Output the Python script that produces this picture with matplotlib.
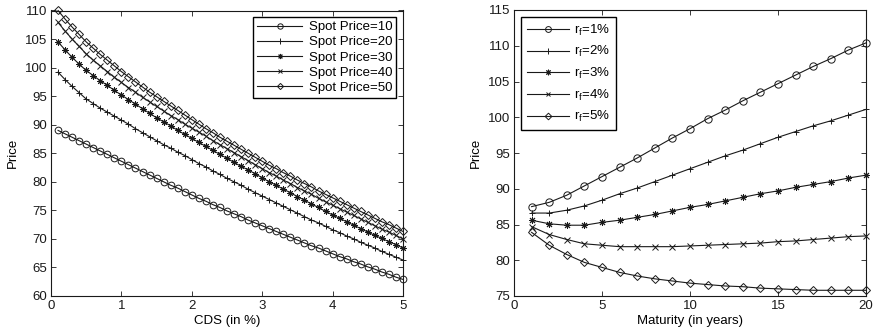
import numpy as np
import matplotlib
matplotlib.use("Agg")
import matplotlib.pyplot as plt

plt.rcParams['font.family'] = ['Liberation Sans', 'DejaVu Sans']
plt.rcParams['mathtext.fontset'] = 'custom'
plt.rcParams['mathtext.rm'] = 'Liberation Sans'
plt.rcParams['mathtext.it'] = 'Liberation Sans'

# ---- Left panel: price vs CDS spread for several spot prices ----
cds = np.round(np.arange(1, 51) * 0.1, 1)
spot_labels = ["Spot Price=10", "Spot Price=20", "Spot Price=30",
               "Spot Price=40", "Spot Price=50"]
spot10 = [89.0, 88.4, 87.8, 87.2, 86.6, 86.0, 85.4, 84.8, 84.2, 83.6,
          83.0, 82.4, 81.8, 81.2, 80.6, 80.0, 79.4, 78.9, 78.3, 77.7,
          77.1, 76.6, 76.0, 75.5, 74.9, 74.4, 73.9, 73.3, 72.8, 72.3,
          71.8, 71.3, 70.8, 70.3, 69.8, 69.3, 68.8, 68.4, 67.9, 67.4,
          66.9, 66.5, 66.0, 65.6, 65.1, 64.7, 64.2, 63.8, 63.3, 62.9]
spot20 = [99.2, 97.9, 96.7, 95.6, 94.5, 93.7, 92.9, 92.2, 91.5, 90.8,
          90.1, 89.3, 88.6, 87.9, 87.2, 86.5, 85.9, 85.2, 84.6, 83.9,
          83.2, 82.6, 81.9, 81.3, 80.6, 80.0, 79.4, 78.7, 78.1, 77.5,
          76.9, 76.3, 75.7, 75.1, 74.5, 73.9, 73.3, 72.8, 72.2, 71.6,
          71.1, 70.5, 70.0, 69.4, 68.9, 68.4, 67.8, 67.3, 66.8, 66.3]
spot30 = [104.5, 103.1, 101.8, 100.6, 99.5, 98.6, 97.7, 96.9, 96.0, 95.2,
          94.4, 93.6, 92.8, 92.0, 91.2, 90.5, 89.8, 89.0, 88.3, 87.6,
          86.9, 86.2, 85.5, 84.8, 84.1, 83.4, 82.7, 82.1, 81.4, 80.7,
          80.0, 79.4, 78.7, 78.1, 77.4, 76.8, 76.1, 75.5, 74.8, 74.2,
          73.6, 73.0, 72.4, 71.8, 71.2, 70.6, 70.1, 69.5, 69.0, 68.4]
spot40 = [107.9, 106.4, 105.0, 103.7, 102.4, 101.3, 100.3, 99.3, 98.3, 97.4,
          96.5, 95.7, 94.8, 94.0, 93.2, 92.4, 91.6, 90.9, 90.1, 89.4,
          88.7, 88.0, 87.2, 86.5, 85.8, 85.1, 84.4, 83.7, 83.0, 82.3,
          81.6, 81.0, 80.3, 79.7, 79.0, 78.4, 77.8, 77.1, 76.5, 75.9,
          75.3, 74.7, 74.1, 73.5, 72.9, 72.3, 71.7, 71.2, 70.6, 70.0]
spot50 = [110.0, 108.5, 107.1, 105.8, 104.5, 103.4, 102.3, 101.3, 100.3, 99.3,
          98.4, 97.5, 96.6, 95.7, 94.9, 94.1, 93.3, 92.5, 91.7, 90.9,
          90.1, 89.3, 88.6, 87.8, 87.1, 86.4, 85.7, 85.0, 84.3, 83.6,
          82.9, 82.3, 81.6, 81.0, 80.3, 79.7, 79.1, 78.4, 77.8, 77.2,
          76.6, 76.0, 75.4, 74.8, 74.2, 73.6, 73.0, 72.5, 71.9, 71.3]

# ---- Right panel: price vs maturity for several risk-free rates ----
maturity = list(range(1, 21))
rf_labels = ["r$_\\mathrm{f}$=1%", "r$_\\mathrm{f}$=2%", "r$_\\mathrm{f}$=3%",
             "r$_\\mathrm{f}$=4%", "r$_\\mathrm{f}$=5%"]
rf1 = [87.5, 88.1, 89.1, 90.4, 91.7, 93.0, 94.3, 95.7, 97.1, 98.4,
       99.8, 101.0, 102.3, 103.5, 104.7, 105.9, 107.1, 108.2, 109.4, 110.4]
rf2 = [86.6, 86.6, 87.0, 87.6, 88.4, 89.3, 90.1, 91.0, 91.9, 92.8,
       93.7, 94.6, 95.4, 96.3, 97.2, 98.0, 98.8, 99.5, 100.3, 101.1]
rf3 = [85.6, 85.1, 84.9, 84.9, 85.3, 85.6, 86.0, 86.4, 86.9, 87.4,
       87.8, 88.3, 88.8, 89.3, 89.7, 90.2, 90.6, 91.0, 91.5, 91.9]
rf4 = [84.7, 83.6, 82.9, 82.3, 82.1, 81.9, 81.9, 81.9, 81.9, 82.0,
       82.1, 82.2, 82.3, 82.4, 82.6, 82.7, 82.9, 83.1, 83.3, 83.4]
rf5 = [83.9, 82.1, 80.8, 79.7, 79.0, 78.3, 77.8, 77.4, 77.1, 76.8,
       76.6, 76.4, 76.3, 76.1, 76.0, 75.9, 75.8, 75.8, 75.8, 75.8]

# MATLAB-style asterisk: eight-armed star drawn as strokes
asterisk = (8, 2, 0)
markers = ['o', '+', asterisk, 'x', 'D']
line_color = '#1a1a1a'
fs = 9.5
lfs = 9.5

fig = plt.figure(figsize=(8.75, 3.32), dpi=100)
ax1 = fig.add_axes([51 / 875, 1 - 296 / 332, 352 / 875, 285.5 / 332])
ax2 = fig.add_axes([514 / 875, 1 - 296 / 332, 352 / 875, 286 / 332])


def marker_kw(m, ms):
    kw = dict(marker=m, color=line_color, linewidth=0.8,
              markeredgewidth=0.7, markersize=ms, clip_on=False)
    if m in ('o', 'D'):
        kw['markerfacecolor'] = 'none'
        kw['markersize'] = ms * (0.85 if m == 'D' else 1.05)
    elif m == 'x':
        kw['markersize'] = ms * 0.8
    return kw


for ys, lab, m in zip([spot10, spot20, spot30, spot40, spot50], spot_labels, markers):
    ax1.plot(cds, ys, label=lab, **marker_kw(m, 4.6))

for ys, lab, m in zip([rf1, rf2, rf3, rf4, rf5], rf_labels, markers):
    ax2.plot(maturity, ys, label=lab, **marker_kw(m, 5.0))

ax1.set_xlim(0, 5)
ax1.set_ylim(60, 110)
ax1.set_xticks([0, 1, 2, 3, 4, 5])
ax1.set_yticks(np.arange(60, 111, 5))
ax1.set_xlabel("CDS (in %)", fontsize=fs, labelpad=2)
ax1.set_ylabel("Price", fontsize=fs, labelpad=4)

ax2.set_xlim(0, 20)
ax2.set_ylim(75, 115)
ax2.set_xticks([0, 5, 10, 15, 20])
ax2.set_yticks(np.arange(75, 116, 5))
ax2.set_xlabel("Maturity (in years)", fontsize=fs, labelpad=2)
ax2.set_ylabel("Price", fontsize=fs, labelpad=4)

for ax in (ax1, ax2):
    ax.tick_params(direction='in', top=True, right=True, labelsize=fs,
                   length=3.5, width=0.6, pad=3, colors='#1a1a1a')
    for s in ax.spines.values():
        s.set_linewidth(0.8)
        s.set_color('#1a1a1a')

leg1 = ax1.legend(loc='upper right', fontsize=lfs, handlelength=3.4,
                  handletextpad=0.5, labelspacing=0.22, borderpad=0.3,
                  fancybox=False, framealpha=1, edgecolor='black',
                  borderaxespad=0.5, markerscale=0.8)
leg1.get_frame().set_linewidth(1.0)

leg2 = ax2.legend(loc='upper left', fontsize=lfs, handlelength=3.2,
                  handletextpad=0.4, labelspacing=0.5, borderpad=0.45,
                  fancybox=False, framealpha=1, edgecolor='black',
                  borderaxespad=0.5, markerscale=0.8)
leg2.get_frame().set_linewidth(1.0)

fig.savefig("out.png", dpi=100)
